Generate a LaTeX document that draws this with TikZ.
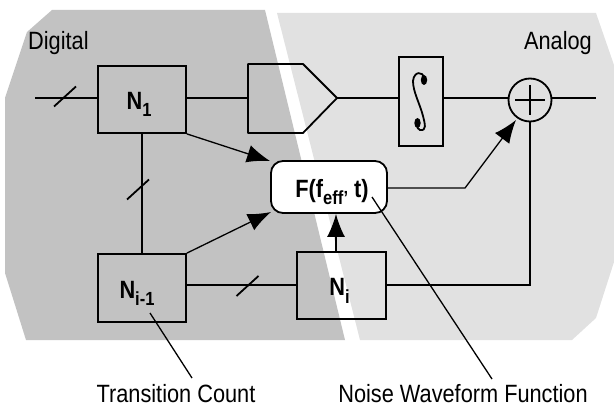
\documentclass[tikz,border=0pt]{standalone}
\usepackage{fontspec}
\setmainfont[FakeStretch=0.87]{Liberation Sans}
\usetikzlibrary{arrows.meta}
\definecolor{digitalgray}{RGB}{194,194,194}
\definecolor{analoggray}{RGB}{225,225,225}
\newcommand{\sublab}[1]{\raisebox{-7pt}{\fontsize{19}{19}\selectfont #1}}
\tikzset{
  labelfont/.style={font=\fontsize{25}{27}\selectfont},
  blockfont/.style={font=\fontsize{25}{27}\selectfont\bfseries},
  blockbox/.style={draw=black,line width=1.8pt,inner sep=0pt,text height=21pt,text depth=0pt,blockfont},
  wire/.style={draw=black,line width=1.8pt},
  pointer/.style={draw=black,line width=1.3pt},
  bigarrow/.style={draw=black,line width=1.3pt,-{Latex[length=23pt,width=18pt]}}
}
\begin{document}
\begin{tikzpicture}[x=1pt,y=-1pt]
                \useasboundingbox (0,0) rectangle (614,409);
                %%% Background regions
                \path [fill=digitalgray] (52,10) -- (265,10) -- (345,340) -- (26,340) -- (5,273) -- (5,98) -- (27,32) -- cycle;
                \path [fill=analoggray] (277,13) -- (596,13) -- (614,65) -- (614,262) -- (596,318) -- (572,340) -- (360,340) -- cycle;
                %%% Blocks
                \node [blockbox,minimum width=88pt,minimum height=67pt] (nfirst) at (142,99.5) {\hspace*{-6pt}N\sublab{1}};
                \node [blockbox,minimum width=88pt,minimum height=68pt] (nprev) at (142,288) {\hspace*{-10pt}N\sublab{i-1}};
                \node [blockbox,minimum width=89pt,minimum height=67pt] (ncur) at (341.5,285.5) {\hspace*{-4pt}N\sublab{i}};
                \node [blockbox,fill=white,rounded corners=12pt,minimum width=116pt,minimum height=52pt] (noisefn) at (329,187) {\hspace*{6pt}F(f\sublab{eff'} t)};
                \node [blockbox,minimum width=44pt,minimum height=89pt] (integ) at (421,101.5) {};
                \node [draw=black,line width=1.8pt,circle,inner sep=0pt,minimum size=43pt] (adder) at (530,100) {};
                %%% Converter outline
                \coordinate (dacin) at (248,98);
                \coordinate (dacout) at (337,98);
                \draw [wire,line join=round] (248,64) -- (303,64) -- (dacout) -- (303,133) -- (248,133) -- cycle;
                %%% Integral sign and plus
                \draw [line width=1.8pt] (424,78) .. controls (423,71) and (414,71) .. (413,81) .. controls (413,92) and (420,104) .. (423,116) .. controls (425,124) and (427,131) .. (420,130) .. controls (418,130) and (417,127) .. (417,124);
                \path [fill=black] (424,80) ellipse (3.2pt and 5pt);
                \path [fill=black] (417.5,123) ellipse (3.2pt and 5pt);
                \draw [line width=1.3pt] (515,100) -- (545,100);
                \draw [line width=1.3pt] (530,85) -- (530,115);
                %%% Wires
                \coordinate (inwire) at (35,98);
                \coordinate (outwire) at (596,98);
                \draw [wire] (inwire) -- (nfirst.west |- inwire);
                \draw [wire] (nfirst.east |- inwire) -- (dacin);
                \draw [wire] (dacout) -- (integ.west |- dacout);
                \draw [wire] (integ.east |- dacout) -- (adder.west |- dacout);
                \draw [wire] (adder.east |- dacout) -- (outwire);
                \draw [wire] (nfirst.south) -- (nprev.north);
                \draw [wire] (nprev.east |- 0,285) -- (ncur.west |- 0,285);
                \draw [wire] (ncur.east |- 0,285) -| (adder.south);
                %%% Slash marks on the bus lines
                \foreach \x/\y in {65/96.5,138/189.5,247.5/286}
                    \draw [wire,shift={(\x,\y)}] (-11,10) -- (11,-10);
                %%% Heavy arrows
                \coordinate (fbend) at (465,188);
                \draw [bigarrow] (nfirst.south east) -- (270,161);
                \draw [bigarrow] (nprev.north east) -- (271,212);
                \draw [bigarrow] (ncur.north -| 336,0) -- (336,214);
                \draw [bigarrow] (noisefn.east |- fbend) -- (fbend) -- (516,120);
                %%% Labels
                \node [labelfont,anchor=base west,inner sep=0pt] (diglab) at (28,50) {Digital};
                \node [labelfont,anchor=base east,inner sep=0pt] (analab) at (592,50) {Analog};
                \node [labelfont,anchor=base,inner sep=0pt] (countlab) at (176,402) {Transition Count};
                \node [labelfont,anchor=base,inner sep=0pt] (funclab) at (463,402) {Noise Waveform Function};
                %%% Pointer lines
                \coordinate (counttip) at (150,313);
                \coordinate (functip) at (372,197);
                \draw [pointer] (counttip) -- (192,378);
                \draw [pointer] (functip) -- (492,379);
\end{tikzpicture}
\end{document}
